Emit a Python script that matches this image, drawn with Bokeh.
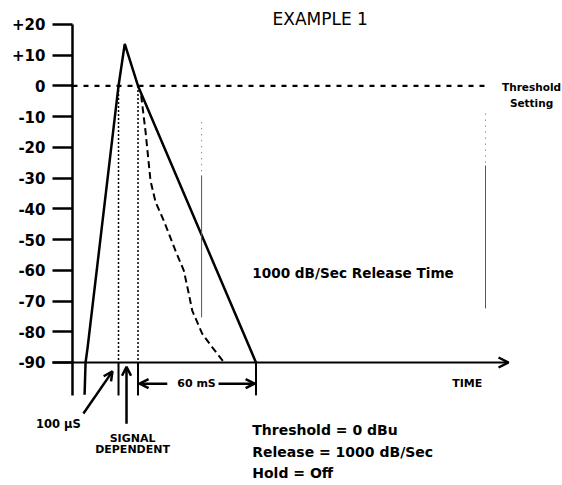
from bokeh.plotting import figure
from bokeh.models import Range1d, FixedTicker, Arrow, OpenHead
from bokeh.core.properties import value
from bokeh.embed import file_html
from bokeh.resources import INLINE

# ---- data (time in ms from the level axis, level in dB) ----
y_ticks = [20, 10, 0, -10, -20, -30, -40, -50, -60, -70, -80, -90]
y_tick_labels = ["+20", "+10", "0", "-10", "-20", "-30", "-40", "-50", "-60", "-70", "-80", "-90"]

# solid gate envelope: attack up through threshold to the peak, linear release
env_t = [6.2, 6.7, 7.7, 23.6, 26.8, 33.6, 94.1]
env_db = [-100.5, -90, -85.4, 0, 13.7, 0, -90]

# dashed signal-dependent release
rel_t = [35.2, 37.4, 40.0, 42.6, 46.8, 52.8, 57.1, 59.6, 61.4, 66.5, 71.6, 77.6]
rel_db = [-3.1, -14.5, -30.8, -37.8, -43.8, -53.6, -60.1, -67.5, -73.1, -80.6, -85.0, -89.9]

threshold_db = 0
threshold_end_t = 212.8
floor_db = -90
time_axis_start_t = -10.3
time_axis_end_t = 223.6
marker_bottom_db = -100.7
cross_up_t = 23.6
cross_down_t = 33.6
release_end_t = 94.1
label_row_db = -96.9

# faint vertical scan marks
mark_t = [66.2, 211.8]
mark_top_db = [-11.8, -9.0]
mark_mid_db = [-29.1, -25.9]
mark_bot_db = [-75.3, -72.4]

FONT = value("DejaVu Sans")

p = figure(width=562, height=485,
           x_range=Range1d(-36.92, 251.28), y_range=Range1d(-130.03, 27.81),
           output_backend="svg", toolbar_location=None, min_border=0)
p.xaxis.visible = False
p.grid.visible = False
p.outline_line_color = None
p.background_fill_color = "white"

yax = p.yaxis[0]
yax.fixed_location = 0
yax.ticker = FixedTicker(ticks=y_ticks)
yax.major_label_overrides = {t: l for t, l in zip(y_ticks, y_tick_labels)}
yax.axis_line_color = None
yax.major_tick_in = 0
yax.major_tick_out = 20
yax.major_tick_line_width = 2.5
yax.major_tick_line_color = "black"
yax.minor_tick_line_color = None
yax.major_label_standoff = 7
yax.major_label_text_font = "DejaVu Sans"
yax.major_label_text_font_size = "15px"
yax.major_label_text_font_style = "bold"
yax.major_label_text_color = "black"

# level axis line (extends below the time axis)
p.segment(x0=[0], y0=[marker_bottom_db], x1=[0], y1=[y_ticks[0]], line_color="black", line_width=2.5)

# time axis with arrow
p.add_layout(Arrow(end=OpenHead(size=10, line_width=2.5, line_color="black"),
                   x_start=time_axis_start_t, y_start=floor_db, x_end=time_axis_end_t, y_end=floor_db,
                   line_width=2.2, line_color="black"))

# threshold dotted line
p.line([0, threshold_end_t], [threshold_db, threshold_db], line_color="black", line_width=2.2, line_dash="5 6")

# dotted verticals at threshold crossings
for t in [cross_up_t, cross_down_t]:
    p.line([t, t], [threshold_db, floor_db], line_color="black", line_width=1.5, line_dash="2 2")
    p.line([t, t], [floor_db, marker_bottom_db], line_color="black", line_width=2)
p.line([release_end_t, release_end_t], [floor_db, marker_bottom_db], line_color="black", line_width=2)

# envelope and release curve
p.line(env_t, env_db, line_color="black", line_width=2.5)
p.line(rel_t, rel_db, line_color="black", line_width=2, line_dash="7 4")

# faint scan marks
for t, a, b, c in zip(mark_t, mark_top_db, mark_mid_db, mark_bot_db):
    p.line([t, t], [a, b], line_color="#666666", line_width=1, line_dash="1 5")
    p.line([t, t], [b, c], line_color="#555555", line_width=1)

# annotation arrows
head = dict(size=9, line_width=2.5, line_color="black")
p.add_layout(Arrow(end=OpenHead(**head), x_start=5.6, y_start=-106.6, x_end=20.5, y_end=-92.9,
                   line_width=2.5, line_color="black"))
p.add_layout(Arrow(end=OpenHead(**head), x_start=27.7, y_start=-109.9, x_end=27.7, y_end=-91.4,
                   line_width=2.5, line_color="black"))
p.add_layout(Arrow(end=OpenHead(**head), x_start=48.6, y_start=label_row_db, x_end=34.4, y_end=label_row_db,
                   line_width=2.5, line_color="black"))
p.add_layout(Arrow(end=OpenHead(**head), x_start=74.9, y_start=label_row_db, x_end=93.4, y_end=label_row_db,
                   line_width=2.5, line_color="black"))

# texts
def txt(x, y, s, size, align="left", style="bold"):
    p.text(x=[x], y=[y], text=[s], text_font=FONT, text_font_size=size, text_font_style=style,
           text_align=align, text_baseline="middle", text_color="black")

txt(102.6, 21.9, "EXAMPLE  1", "17px", style="normal")
txt(235.4, -0.4, "Threshold", "10.5px", align="center")
txt(235.4, -5.7, "Setting", "10.5px", align="center")
txt(92.2, -61.0, "1000 dB/Sec Release Time", "13.6px")
txt(202.4, label_row_db, "TIME", "11px", align="center")
txt(63.6, label_row_db, "60 mS", "11px", align="center")
txt(-7.2, -109.9, "100 \u00b5S", "11.5px", align="center")
txt(30.8, -114.7, "SIGNAL", "11px", align="center")
txt(30.8, -118.3, "DEPENDENT", "11px", align="center")
txt(92.2, -112.1, "Threshold = 0 dBu", "14px")
txt(92.2, -119.0, "Release = 1000 dB/Sec", "14px")
txt(92.2, -125.8, "Hold = Off", "14px")

open("out.html", "w").write(file_html(p, INLINE))
